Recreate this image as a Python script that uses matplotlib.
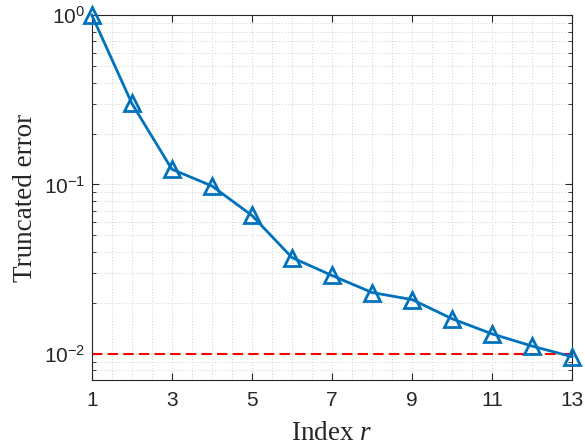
import numpy as np
import matplotlib
matplotlib.use('Agg')
import matplotlib.pyplot as plt
from matplotlib.ticker import LogLocator, MultipleLocator, FixedLocator, NullFormatter

plt.rcParams['mathtext.fontset'] = 'custom'
plt.rcParams['mathtext.rm'] = 'Liberation Serif'
plt.rcParams['mathtext.it'] = 'Liberation Serif:italic'
plt.rcParams['mathtext.sf'] = 'Liberation Sans'

# truncation error versus index r
r = np.arange(1, 14)
err = [1.0, 0.301, 0.123, 0.098, 0.0656, 0.037, 0.029, 0.023, 0.0209,
       0.0161, 0.0131, 0.0111, 0.0096]
tol = 0.01
xticks = [1, 3, 5, 7, 9, 11, 13]
ydecades = [1e-2, 1e-1, 1e0]
ylabels = [r'$\mathsf{10^{-2}}$', r'$\mathsf{10^{-1}}$', r'$\mathsf{10^{0}}$']

fig = plt.figure(figsize=(5.85, 4.46), dpi=100)
ax = fig.add_axes([0.157, 0.148, 0.821, 0.818])

ax.semilogy(r, err, '-^', color='#0072BD', lw=2, ms=11, mfc='none',
            mew=2, zorder=3, clip_on=False)
ax.plot([r[0], r[-1]], [tol, tol], '--', color='#FF0000', lw=1.5,
        dashes=(5, 2.5), zorder=2)

ax.set_xlim(1, 13)
ax.set_ylim(0.007, 1)
ax.xaxis.set_major_locator(FixedLocator(xticks))
ax.xaxis.set_minor_locator(MultipleLocator(0.5))
ax.yaxis.set_major_locator(FixedLocator(ydecades))
ax.yaxis.set_minor_locator(LogLocator(base=10, subs=np.arange(2, 10)))
ax.yaxis.set_minor_formatter(NullFormatter())
ax.set_xticklabels([str(t) for t in xticks], fontfamily='Liberation Sans')
ax.set_yticklabels(ylabels)

ax.grid(True, which='both', ls=(0, (1, 2)), color='#cfcfcf', lw=0.7)
ax.tick_params(which='both', direction='in', top=True, right=True,
               colors='#262626', labelsize=15)
ax.tick_params(which='major', length=5, width=0.8)
ax.tick_params(axis='y', which='minor', length=3, width=0.6)
ax.tick_params(axis='x', which='minor', length=0)
ax.tick_params(axis='x', pad=8)
ax.tick_params(axis='y', pad=5)
for s in ax.spines.values():
    s.set_color('#262626')
    s.set_linewidth(0.8)

ax.set_xlabel('Index $r$', fontfamily='Liberation Serif', fontsize=19.5,
              color='#262626', va='baseline')
ax.xaxis.set_label_coords(0.5, -0.164)
ax.set_ylabel('Truncated error', fontfamily='Liberation Serif', fontsize=19.5,
              color='#262626', va='baseline', ha='center',
              rotation_mode='anchor')
ax.yaxis.set_label_coords(-0.125, 0.5)

plt.savefig('out.png', dpi=100)
